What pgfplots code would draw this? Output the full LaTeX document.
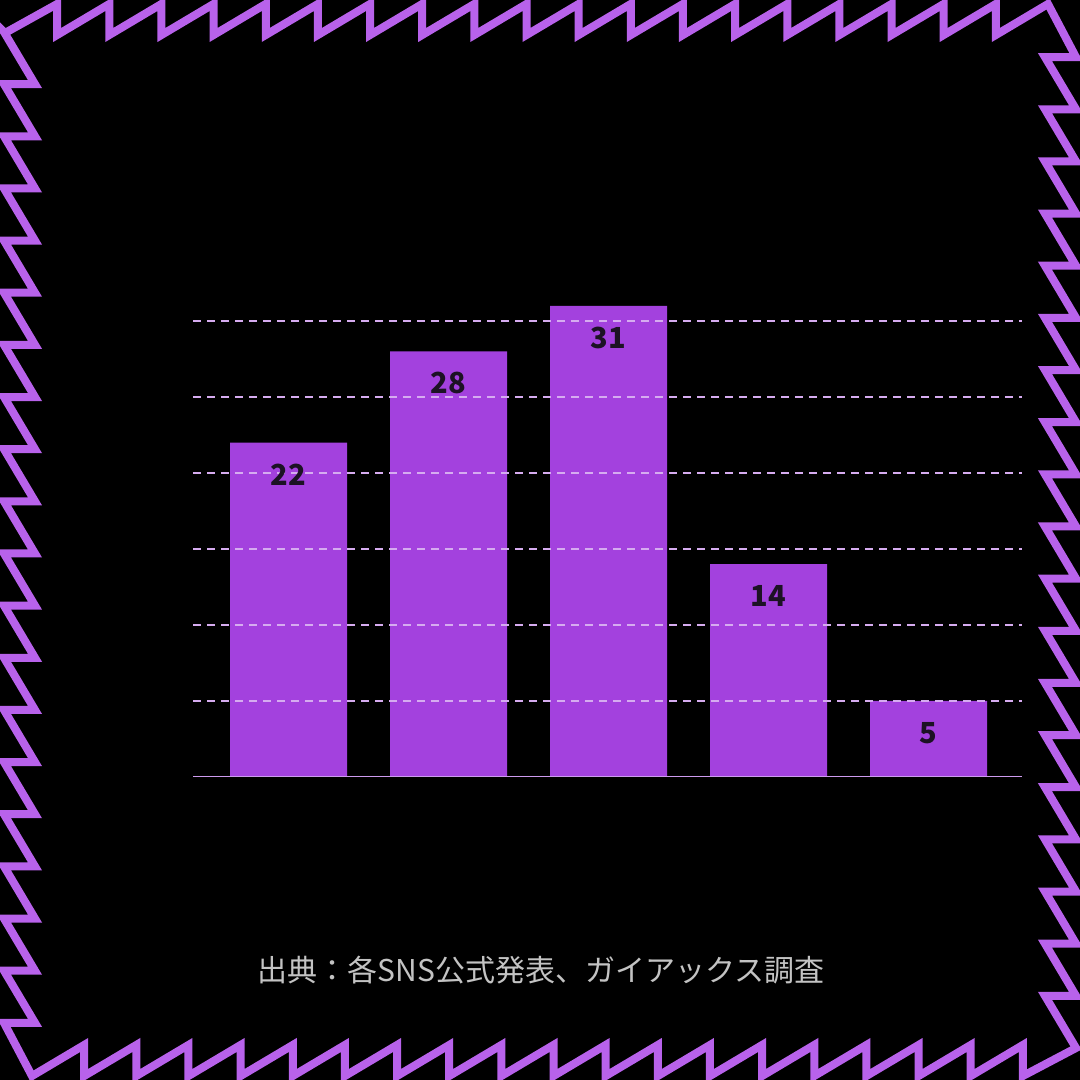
\documentclass[border=0pt]{standalone}
\usepackage{fontspec}
\usepackage{pgfplots}
\pgfplotsset{compat=1.18}
\newfontfamily\cjk{Noto Sans CJK JP}

\definecolor{barc}{RGB}{163,65,222}
\definecolor{zig}{RGB}{184,98,235}
\definecolor{gridc}{RGB}{214,172,240}
\definecolor{basec}{RGB}{205,155,238}
\definecolor{labc}{RGB}{28,18,36}
\definecolor{srcc}{RGB}{195,195,195}

\begin{document}
\begin{tikzpicture}[x=1pt,y=1pt]
\fill[black] (0,0) rectangle (1080,1080);
\useasboundingbox (0,0) rectangle (1080,1080);

% sawtooth frame, one side after another (clockwise)
\draw[zig, line width=8pt, line join=miter]
  (5,1047) -- (57.15,1076)
  \foreach \k in {2,...,20}{ -- ({5+52.15*(\k-1)},1045) -- ({5+52.15*\k},1076) }
  -- (1076,{1080-57.15})
  \foreach \k in {2,...,20}{ -- (1045,{1075-52.15*(\k-1)}) -- (1076,{1075-52.15*\k}) }
  -- ({1075-52.15},4)
  \foreach \k in {2,...,20}{ -- ({1075-52.15*(\k-1)},35) -- ({1075-52.15*\k},4) }
  -- (4,{5+52.15})
  \foreach \k in {2,...,20}{ -- (35,{5+52.15*(\k-1)}) -- (4,{5+52.15*\k}) }
  -- cycle;

\begin{axis}[
    at={(193pt,303pt)}, anchor=south west,
    scale only axis, width=829pt, height=478.8pt,
    xmin=-0.597, xmax=4.584, ymin=0, ymax=31.5,
    ybar, bar width=0.731, bar shift=0pt,
    axis on top,
    axis line style={draw=none},
    tick style={draw=none},
    xtick=\empty,
    ytick={5,10,...,30}, yticklabels={},
    ymajorgrids,
    major grid style={gridc, line width=1.6pt, dash pattern=on 8pt off 6pt},
    /pgf/number format/assume math mode=true,
    nodes near coords,
    every node near coord/.append style={anchor=center, yshift=-32pt,
      text=labc, font=\cjk\bfseries\fontsize{29}{34}\selectfont},
  ]
  \addplot[fill=barc, draw=none] coordinates {(0,22) (1,28) (2,31) (3,14) (4,5)};
  \draw[basec, line width=1.8pt] (rel axis cs:0,0) -- (rel axis cs:1,0);
\end{axis}

\node[font=\cjk\fontsize{30}{36}\selectfont, text=srcc] at (541,110) {出典：各SNS公式発表、ガイアックス調査};
\end{tikzpicture}
\end{document}
